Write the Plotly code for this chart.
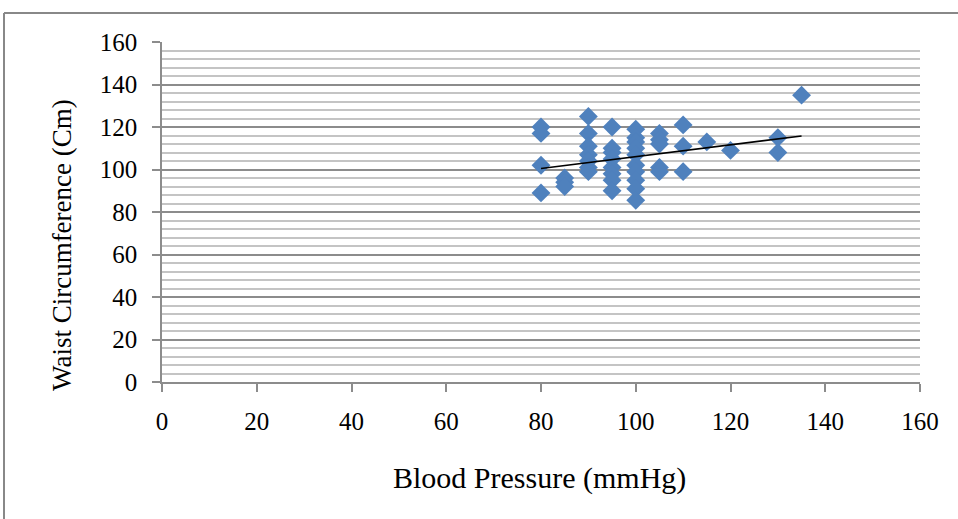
import plotly.graph_objects as go

# Data
bp = (
    [80] * 4 + [85] * 3 + [90] * 7 + [95] * 8 + [100] * 10 +
    [105] * 5 + [110] * 3 + [115] + [120] + [130] * 2 + [135]
)
waist = (
    [120, 117, 102, 89] +
    [96, 94, 92] +
    [125, 117, 111, 107, 104, 101, 99] +
    [120, 110, 108, 105, 101, 98, 95, 90] +
    [119, 115, 113, 110, 107, 102, 99, 95, 91, 85.5] +
    [117, 114, 112, 101, 99] +
    [121, 111, 99] +
    [113] +
    [109] +
    [115, 108] +
    [135]
)
trend_x = [80, 135]
trend_y = [100.5, 115.8]

x_ticks = [0, 20, 40, 60, 80, 100, 120, 140, 160]
y_ticks = [0, 20, 40, 60, 80, 100, 120, 140, 160]

FONT = "Liberation Serif, Times New Roman, serif"

fig = go.Figure()
fig.add_trace(go.Scatter(
    x=bp, y=waist, mode="markers",
    marker=dict(symbol="diamond", size=14.5, color="#4f81bd",
                line=dict(width=0)),
    showlegend=False, hoverinfo="x+y"))
fig.add_trace(go.Scatter(
    x=trend_x, y=trend_y, mode="lines",
    line=dict(color="black", width=1.6),
    showlegend=False, hoverinfo="skip"))

fig.update_layout(
    width=958, height=519,
    margin=dict(l=162, r=38, t=42, b=137),
    paper_bgcolor="white", plot_bgcolor="white",
    font=dict(family=FONT, color="black", size=25),
    xaxis=dict(
        range=[0, 160], tickvals=x_ticks, ticktext=[str(v) for v in x_ticks],
        showgrid=False, zeroline=False,
        showline=True, linecolor="#8c8c8c", linewidth=1.5,
        ticks="outside", ticklen=8, tickcolor="#8c8c8c", tickwidth=1.5,
        ticklabelstandoff=8,
        tickfont=dict(family=FONT, size=25, color="black"),
    ),
    yaxis=dict(
        range=[0, 160], tickvals=y_ticks, ticktext=[str(v) for v in y_ticks],
        showgrid=True, gridcolor="#8c8c8c", gridwidth=1.5,
        zeroline=False,
        showline=True, linecolor="#8c8c8c", linewidth=1.5,
        ticks="outside", ticklen=8, tickcolor="#8c8c8c", tickwidth=1.5,
        ticklabelstandoff=10,
        tickfont=dict(family=FONT, size=25, color="black"),
        minor=dict(dtick=4, showgrid=True, gridcolor="#c4c4c4",
                   gridwidth=1.5, ticks=""),
    ),
    annotations=[
        dict(text="Blood Pressure (mmHg)", xref="paper", yref="paper",
             x=0.498, y=-0.282, xanchor="center", yanchor="middle",
             showarrow=False, font=dict(family=FONT, size=30, color="black")),
        dict(text="Waist Circumference (Cm)", xref="paper", yref="paper",
             x=-0.132, y=0.403, xanchor="center", yanchor="middle",
             textangle=-90, showarrow=False,
             font=dict(family=FONT, size=27, color="black")),
    ],
    shapes=[
        dict(type="line", xref="paper", yref="paper",
             x0=(4 - 162) / 758, x1=1.2, y0=(382 - 13) / 340, y1=(382 - 13) / 340,
             line=dict(color="#888888", width=2)),
        dict(type="line", xref="paper", yref="paper",
             x0=(4 - 162) / 758, x1=(4 - 162) / 758,
             y0=(382 - 13) / 340, y1=-0.6,
             line=dict(color="#888888", width=2)),
    ],
)

fig.write_html("out.html")
